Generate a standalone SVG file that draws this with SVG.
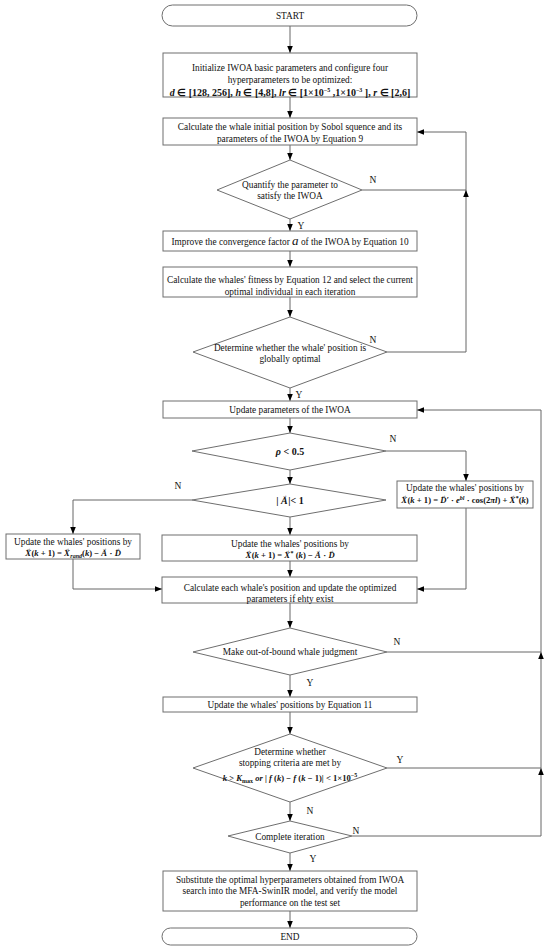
<svg xmlns="http://www.w3.org/2000/svg" width="550" height="952" viewBox="0 0 550 952">
<style>
.box{fill:#fff;stroke:#6e6e6e;stroke-width:1}
.ln{fill:none;stroke:#666;stroke-width:1}
text{font-family:"Liberation Serif","Times New Roman",serif;font-size:9.3px;fill:#111;text-anchor:middle}
.lbl{font-size:9.5px}
.m{font-weight:bold;font-size:10px}
.f{font-weight:bold;font-size:8.6px}
.i{font-style:italic}
.sup{font-size:6px}
.va{font-size:5px;font-style:normal;font-weight:normal}
</style>
<defs>
<marker id="ah" viewBox="0 0 10 10" refX="10" refY="5" markerWidth="7" markerHeight="7" markerUnits="userSpaceOnUse" orient="auto">
<path d="M0,1 L10,5 L0,9 z" fill="#000"/>
</marker>
</defs>
<rect width="550" height="952" fill="#fff"/>

<g id="connectors">
<path class="ln" marker-end="url(#ah)" d="M290,26 V53"/>
<path class="ln" marker-end="url(#ah)" d="M290,97 V118"/>
<path class="ln" marker-end="url(#ah)" d="M290,145 V160"/>
<path class="ln" marker-end="url(#ah)" d="M290,219 V231"/>
<path class="ln" marker-end="url(#ah)" d="M290,251 V267"/>
<path class="ln" marker-end="url(#ah)" d="M290,297 V317"/>
<path class="ln" marker-end="url(#ah)" d="M290,388 V401"/>
<path class="ln" marker-end="url(#ah)" d="M290,418 V433"/>
<path class="ln" marker-end="url(#ah)" d="M290,470 V484"/>
<path class="ln" marker-end="url(#ah)" d="M290,517 V535"/>
<path class="ln" marker-end="url(#ah)" d="M290,561 V577"/>
<path class="ln" marker-end="url(#ah)" d="M290,603 V628"/>
<path class="ln" marker-end="url(#ah)" d="M290,675 V697"/>
<path class="ln" marker-end="url(#ah)" d="M290,712 V734"/>
<path class="ln" marker-end="url(#ah)" d="M290,802 V821"/>
<path class="ln" marker-end="url(#ah)" d="M290,853 V871"/>
<path class="ln" marker-end="url(#ah)" d="M290,911 V928"/>
<path class="ln" marker-end="url(#ah)" d="M362,190 H466 V132 H417"/>
<path class="ln" marker-end="url(#ah)" d="M387,352 H466 V190"/>
<path class="ln" marker-end="url(#ah)" d="M386,451 H466 V481"/>
<path class="ln" marker-end="url(#ah)" d="M466,508 V589 H417"/>
<path class="ln" marker-end="url(#ah)" d="M192,500 H73 V534"/>
<path class="ln" marker-end="url(#ah)" d="M73,559 V589 H162"/>
<path class="ln" marker-end="url(#ah)" d="M352,836 H541 V768"/>
<path class="ln" marker-end="url(#ah)" d="M387,768 H541 V652"/>
<path class="ln" marker-end="url(#ah)" d="M387,652 H541 V410 H417"/>
</g>

<g id="labels">
<text class="lbl" x="373" y="183">N</text>
<text class="lbl" x="301" y="229">Y</text>
<text class="lbl" x="373" y="343">N</text>
<text class="lbl" x="299" y="398">Y</text>
<text class="lbl" x="393" y="442">N</text>
<text class="lbl" x="178" y="489">N</text>
<text class="lbl" x="397" y="645">N</text>
<text class="lbl" x="310" y="686">Y</text>
<text class="lbl" x="400" y="763">Y</text>
<text class="lbl" x="310" y="814">N</text>
<text class="lbl" x="356" y="834">N</text>
<text class="lbl" x="313" y="862">Y</text>
</g>

<g id="start">
<rect class="box" x="162" y="5" width="255" height="21" rx="10.5"/>
<text x="290" y="18.5">START</text>
</g>

<g id="init">
<rect class="box" x="163" y="53" width="254" height="44"/>
<text x="290" y="71" font-size="8.3">Initialize IWOA basic parameters and configure four</text>
<text x="290" y="83" font-size="8.3">hyperparameters to be optimized:</text>
<text class="m" x="290" y="95.5"><tspan class="i">d</tspan> ∈ [128, 256], <tspan class="i">h</tspan> ∈ [4,8], <tspan class="i">lr</tspan> ∈ [1×10<tspan class="sup" dy="-4">−5</tspan><tspan dy="4"> ,1×10</tspan><tspan class="sup" dy="-4">−3</tspan><tspan dy="4"> ], </tspan><tspan class="i">r</tspan> ∈ [2,6]</text>
</g>

<g id="sobol">
<rect class="box" x="163" y="118" width="254" height="27"/>
<text x="290" y="130">Calculate the whale initial position by Sobol squence and its</text>
<text x="290" y="141.5">parameters of the IWOA by Equation 9</text>
</g>

<g id="quantify">
<polygon class="box" points="290,160 362,190 290,219 217,190"/>
<text x="290" y="188">Quantify the parameter to</text>
<text x="290" y="199">satisfy the IWOA</text>
</g>

<g id="converge">
<rect class="box" x="163" y="231" width="254" height="20"/>
<text x="290" y="244.5" font-size="9">Improve the convergence factor <tspan class="i" font-size="13">a</tspan> of the IWOA by Equation 10</text>
</g>

<g id="fitness">
<rect class="box" x="163" y="267" width="254" height="30"/>
<text x="290" y="283" font-size="8.9">Calculate the whales' fitness by Equation 12 and select the current</text>
<text x="290" y="294.5" font-size="8.9">optimal individual in each iteration</text>
</g>

<g id="globalopt">
<polygon class="box" points="290,317 387,352 290,388 193,352"/>
<text x="290" y="351" font-size="9">Determine whether the whale' position is</text>
<text x="290" y="362" font-size="9">globally optimal</text>
</g>

<g id="update-params">
<rect class="box" x="163" y="401" width="254" height="17"/>
<text x="290" y="413">Update parameters of the IWOA</text>
</g>

<g id="rho">
<polygon class="box" points="290,433 386,451 290,470 192,451"/>
<text class="m" x="290" y="455"><tspan class="i">ρ</tspan> &lt; 0.5</text>
</g>

<g id="absA">
<polygon class="box" points="290,484 386,500 290,517 192,500"/>
<text class="m" x="290" y="504">| <tspan class="i">A</tspan><tspan class="va" dx="-5.5" dy="-7">→</tspan><tspan dx="1" dy="7">|&lt; 1</tspan></text>
</g>

<g id="spiral">
<rect class="box" x="397" y="481" width="136" height="27"/>
<text x="465" y="491">Update the whales' positions by</text>
<text class="f" x="465" y="503" font-size="8.2"><tspan class="i">X</tspan><tspan class="va" dx="-5" dy="-6.5">→</tspan><tspan dx="0.5" dy="6.5">(</tspan><tspan class="i">k</tspan> + 1) = <tspan class="i">D</tspan><tspan class="va" dx="-5.5" dy="-6.5">→</tspan><tspan dx="0.5" dy="6.5" class="i">′</tspan> · <tspan class="i">e</tspan><tspan class="sup i" dy="-3.5">bl</tspan><tspan dy="3.5"> · cos(2</tspan><tspan class="i">πl</tspan>) + <tspan class="i">X</tspan><tspan class="va" dx="-5" dy="-6.5">→</tspan><tspan class="sup" dx="0.5" dy="3">*</tspan><tspan dy="3.5">(</tspan><tspan class="i">k</tspan>)</text>
</g>

<g id="random">
<rect class="box" x="6" y="534" width="134" height="25"/>
<text x="73" y="544.5" font-size="9">Update the whales' positions by</text>
<text class="f" x="73" y="556"><tspan class="i">X</tspan><tspan class="va" dx="-5" dy="-6.5">→</tspan><tspan dx="0.5" dy="6.5">(</tspan><tspan class="i">k</tspan> + 1) = <tspan class="i">X</tspan><tspan class="va" dx="-5" dy="-6.5">→</tspan><tspan class="sup i" dx="0.5" dy="8.5">rand</tspan><tspan dy="-2">(</tspan><tspan class="i">k</tspan>) − <tspan class="i">A</tspan><tspan class="va" dx="-5" dy="-6.5">→</tspan><tspan dx="0.5" dy="6.5"> · </tspan><tspan class="i">D</tspan><tspan class="va" dx="-5.5" dy="-6.5">→</tspan></text>
</g>

<g id="encircle">
<rect class="box" x="162" y="535" width="255" height="26"/>
<text x="290" y="546.5" font-size="9">Update the whales' positions by</text>
<text class="f" x="290" y="558"><tspan class="i">X</tspan><tspan class="va" dx="-5" dy="-6.5">→</tspan><tspan dx="0.5" dy="6.5">(</tspan><tspan class="i">k</tspan> + 1) = <tspan class="i">X</tspan><tspan class="va" dx="-5" dy="-6.5">→</tspan><tspan class="sup" dx="0.5" dy="3">*</tspan><tspan dy="3.5"> (</tspan><tspan class="i">k</tspan>) − <tspan class="i">A</tspan><tspan class="va" dx="-5" dy="-6.5">→</tspan><tspan dx="0.5" dy="6.5"> · </tspan><tspan class="i">D</tspan><tspan class="va" dx="-5.5" dy="-6.5">→</tspan></text>
</g>

<g id="calc">
<rect class="box" x="162" y="577" width="255" height="26"/>
<text x="290" y="591" font-size="9">Calculate each whale's position and update the optimized</text>
<text x="290" y="602" font-size="9">parameters if ehty exist</text>
</g>

<g id="oob">
<polygon class="box" points="290,628 387,652 290,675 193,652"/>
<text x="290" y="655" font-size="9">Make out-of-bound whale judgment</text>
</g>

<g id="eq11">
<rect class="box" x="163" y="697" width="254" height="15"/>
<text x="290" y="707.5" font-size="9">Update the whales' positions by Equation 11</text>
</g>

<g id="stopping">
<polygon class="box" points="290,734 387,768 290,802 193,768"/>
<text x="290" y="755" font-size="9">Determine whether</text>
<text x="290" y="766" font-size="9">stopping criteria are met by</text>
<text class="f" x="290" y="781"><tspan class="i">k</tspan> &gt; <tspan class="i">K</tspan><tspan class="sup" dy="2">max</tspan><tspan dy="-2" class="i"> or</tspan> | <tspan class="i">f</tspan> (<tspan class="i">k</tspan>) − <tspan class="i">f</tspan> (<tspan class="i">k</tspan> − 1)| &lt; 1×10<tspan class="sup" dy="-4">−5</tspan></text>
</g>

<g id="complete">
<polygon class="box" points="290,821 352,836 290,853 228,836"/>
<text x="290" y="839.5" font-size="9">Complete iteration</text>
</g>

<g id="substitute">
<rect class="box" x="163" y="871" width="254" height="40"/>
<text x="290" y="883" font-size="9">Substitute the optimal hyperparameters obtained from IWOA</text>
<text x="290" y="894" font-size="9">search into the MFA-SwinIR model, and verify the model</text>
<text x="290" y="905.5" font-size="9">performance on the test set</text>
</g>

<g id="end">
<rect class="box" x="162" y="928" width="255" height="17" rx="8.5"/>
<text x="290" y="939.5">END</text>
</g>
</svg>
